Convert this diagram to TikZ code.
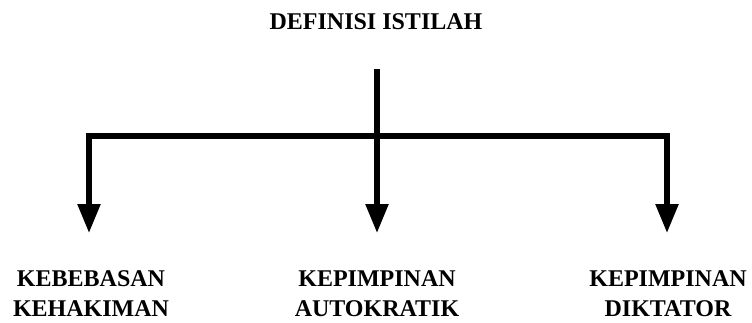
\documentclass[tikz,border=0pt]{standalone}
\usepackage{fontspec}
\setmainfont{Liberation Serif}
\usetikzlibrary{arrows.meta}

\begin{document}
\begin{tikzpicture}[
  x=1pt, y=1pt,
  font=\fontsize{24}{30}\selectfont\bfseries,
  lbl/.style={align=center, inner sep=0pt, anchor=north},
  conn/.style={line width=5.5pt, line join=miter},
  arr/.style={conn, -{Triangle[length=29pt, width=22pt]}, shorten >=37pt},
]
\useasboundingbox (0,0) rectangle (752,322);

\node[inner sep=0pt] (title) at (376,300) {DEFINISI ISTILAH};
\coordinate (stem) at (377,253);
\coordinate (hub) at (377,186);

\node[lbl] (kebebasan) at (91,52) {KEBEBASAN\\KEHAKIMAN};
\node[lbl] (autokratik) at (377,52) {KEPIMPINAN\\AUTOKRATIK};
\node[lbl] (diktator) at (668,52) {KEPIMPINAN\\DIKTATOR};

\draw[arr] (stem) -- (autokratik);
\draw[arr] (hub) -| (kebebasan.north -| 89,0);
\draw[arr] (hub) -| (diktator.north -| 667,0);
\end{tikzpicture}
\end{document}
